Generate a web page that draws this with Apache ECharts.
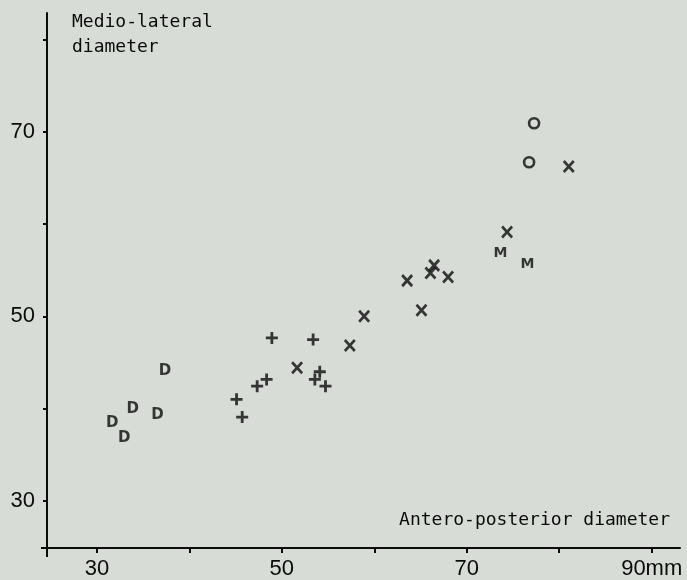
<!DOCTYPE html>
<html>
<head>
<meta charset="utf-8">
<script src="https://cdn.jsdelivr.net/npm/echarts@6/dist/echarts.min.js"></script>
<style>
  html, body { margin: 0; padding: 0; background: #d7dcd6; }
  #chart { width: 687px; height: 580px; }
</style>
</head>
<body>
<div id="chart"></div>
<script>
// Axis ranges and tick values
const xRange = [24.6, 93.06];
const yRange = [24.9, 82.85];
const xTickValues = [30, 40, 50, 60, 70, 80, 90];
const xLabelValues = [30, 50, 70, 90];
const yTickValues = [30, 40, 50, 60, 70, 80];
const yLabelValues = [30, 50, 70];

// Data: [antero-posterior, medio-lateral]
const groupD = [[37.35, 44.05], [33.86, 39.91], [36.56, 39.26], [31.65, 38.48], [32.95, 36.85]];
const groupPlus = [[48.92, 47.66], [53.38, 47.48], [48.35, 43.16], [47.33, 42.43], [45.1, 41.0],
                   [45.71, 39.08], [54.1, 43.99], [53.57, 43.16], [54.72, 42.43]];
const groupX = [[51.65, 44.42], [57.35, 46.83], [58.9, 50.0], [65.1, 50.65], [63.55, 53.86],
                [66.07, 54.69], [66.47, 55.51], [67.98, 54.26], [74.36, 59.12], [81.03, 66.22]];
const groupM = [[73.64, 56.85], [76.56, 55.59]];
const groupO = [[77.28, 70.91], [76.74, 66.69]];

const ink = '#0b0b0b';
const chart = echarts.init(document.getElementById('chart'), null, { renderer: 'canvas' });

function letterSeries(data, letter, size) {
  return {
    type: 'scatter', data: data, symbol: 'circle', symbolSize: 1,
    itemStyle: { color: 'rgba(0,0,0,0)' },
    label: {
      show: true, position: 'inside', formatter: () => letter,
      color: ink, fontFamily: 'DejaVu Sans', fontWeight: 'bold', fontSize: size
    },
    emphasis: { disabled: true }, silent: true
  };
}

chart.setOption({
  animation: false,
  backgroundColor: '#d7dcd6',
  grid: { left: 47, right: 7, top: 13, bottom: 31 },
  xAxis: {
    type: 'value', min: xRange[0], max: xRange[1],
    splitLine: { show: false },
    axisLine: { lineStyle: { color: ink, width: 2 } },
    axisTick: { customValues: xTickValues, length: 5, lineStyle: { color: ink, width: 2 } },
    axisLabel: {
      customValues: xLabelValues, margin: 10,
      formatter: v => (v === 90 ? '90mm' : String(v)),
      fontFamily: 'Liberation Sans', fontSize: 22, color: ink
    }
  },
  yAxis: {
    type: 'value', min: yRange[0], max: yRange[1],
    splitLine: { show: false },
    axisLine: { lineStyle: { color: ink, width: 2 } },
    axisTick: { customValues: yTickValues, length: 4, lineStyle: { color: ink, width: 2 } },
    axisLabel: {
      customValues: yLabelValues, margin: 12,
      fontFamily: 'Liberation Sans', fontSize: 22, color: ink
    }
  },
  series: [
    letterSeries(groupD, 'D', 15),
    {
      type: 'scatter', data: groupPlus,
      symbol: 'path://M0,6H12M6,0V12', symbolSize: 12,
      itemStyle: { color: 'none', borderColor: ink, borderWidth: 2.8 },
      emphasis: { disabled: true }, silent: true
    },
    {
      type: 'scatter', data: groupX,
      symbol: 'path://M0,0L10,11M10,0L0,11', symbolSize: [10, 11],
      itemStyle: { color: 'none', borderColor: ink, borderWidth: 2.8 },
      emphasis: { disabled: true }, silent: true
    },
    letterSeries(groupM, 'M', 14),
    {
      type: 'scatter', data: groupO,
      symbol: 'circle', symbolSize: 10,
      itemStyle: { color: 'rgba(0,0,0,0)', borderColor: ink, borderWidth: 2.6 },
      emphasis: { disabled: true }, silent: true
    }
  ]
});

// Title texts and small axis overhangs
const origin = chart.convertToPixel({ gridIndex: 0 }, [xRange[0], yRange[0]]);
const titleFont = '18px "DejaVu Sans Mono"';
chart.setOption({
  graphic: [
    { type: 'text', left: 72, top: 13, style: { text: 'Medio-lateral', font: titleFont, fill: ink } },
    { type: 'text', left: 72, top: 38, style: { text: 'diameter', font: titleFont, fill: ink } },
    { type: 'text', right: 17, top: 511, style: { text: 'Antero-posterior diameter', font: titleFont, fill: ink } },
    { type: 'line', shape: { x1: origin[0] - 6, y1: origin[1], x2: origin[0], y2: origin[1] },
      style: { stroke: ink, lineWidth: 2 } },
    { type: 'line', shape: { x1: origin[0], y1: origin[1], x2: origin[0], y2: origin[1] + 9 },
      style: { stroke: ink, lineWidth: 2 } }
  ]
});
</script>
</body>
</html>
